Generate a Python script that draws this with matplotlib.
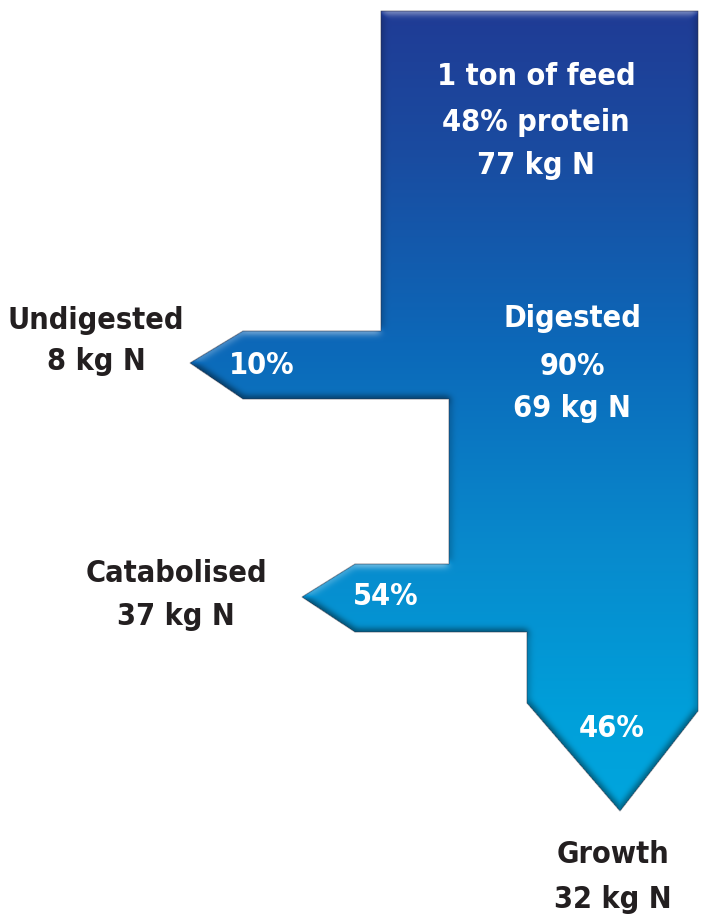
import numpy as np
import matplotlib
matplotlib.use("Agg")
import matplotlib.pyplot as plt
from matplotlib.path import Path
from matplotlib.patches import PathPatch
from matplotlib import font_manager as fm

W, H = 701, 915

# Nitrogen budget for one ton of feed
feed_label = "1 ton of feed"
protein_pct = 48
feed_kg = 77
digested_pct = 90
digested_kg = 69
branch_names = ["Undigested", "Catabolised", "Growth"]
branch_kg = [8, 37, 32]
branch_pct = [10, 54, 46]

# Outline of the flow shape, in pixel coordinates (y grows downward)
outline = [
    (381, 11), (698, 11), (698, 711), (620, 811), (527, 703), (527, 632),
    (355, 632), (302, 597), (355, 564), (449, 564), (449, 399), (243, 399),
    (190, 363), (243, 331), (381, 331),
]

# Vertical colour ramp: deep navy at the top, bright cyan at the tip
ramp_y = [0, 150, 350, 550, 720, 915]
ramp_rgb = np.array([
    (32, 58, 148), (26, 75, 160), (12, 105, 185), (8, 138, 205),
    (0, 160, 218), (0, 172, 226),
]) / 255.0

TEXT_DARK = "#231f20"

# Use a condensed bold face when one is available
cond = fm.FontProperties(family="DejaVu Sans", stretch="condensed", weight="bold")
cond_file = fm.findfont(cond)
if "Condensed" in cond_file:
    FONT_KW = dict(family="DejaVu Sans", fontstretch="condensed", fontweight="bold")
    FS = 22
else:
    FONT_KW = dict(family="DejaVu Sans", fontweight="bold")
    FS = 19


def blur(a, sigma):
    r = int(3 * sigma)
    k = np.exp(-0.5 * (np.arange(-r, r + 1) / sigma) ** 2)
    k /= k.sum()
    p = np.pad(a, ((r, r), (0, 0)))
    t = sum(k[i] * p[i:i + a.shape[0], :] for i in range(2 * r + 1))
    p = np.pad(t, ((0, 0), (r, r)))
    return sum(k[i] * p[:, i:i + a.shape[1]] for i in range(2 * r + 1))


path = Path(np.array(outline + [outline[0]], float), closed=True)

# Anti-aliased coverage from a 2x supersampled mask
ss = 2
xs = (np.arange(W * ss) + 0.5) / ss
ys = (np.arange(H * ss) + 0.5) / ss
gx, gy = np.meshgrid(xs, ys)
inside = path.contains_points(np.column_stack([gx.ravel(), gy.ravel()]))
inside = inside.reshape(H * ss, W * ss).astype(float)
cover = inside.reshape(H, ss, W, ss).mean(axis=(1, 3))

# Base gradient
rows = np.arange(H) + 0.5
col = np.stack([np.interp(rows, ramp_y, ramp_rgb[:, c]) for c in range(3)], axis=1)
rgb = np.repeat(col[:, None, :], W, axis=1)

# Bevel: light along upper edges, shadow along lower and side edges
b = blur(cover, 3.5)
dy = np.gradient(b, axis=0)
dx = np.gradient(b, axis=1)
shade = 3.2 * dy - 1.4 * np.abs(dx)
shade = np.clip(shade, -0.6, 0.35)
light = np.clip(shade, 0, None)[..., None]
dark = np.clip(shade, None, 0)[..., None]
rgb = rgb + (1 - rgb) * light
rgb = rgb * (1 + dark)
rgb = np.clip(rgb, 0, 1)

rgba = np.dstack([rgb, cover])

fig = plt.figure(figsize=(W / 100, H / 100), dpi=100)
ax = fig.add_axes([0, 0, 1, 1])
ax.set_xlim(0, W)
ax.set_ylim(H, 0)
ax.axis("off")

ax.imshow(rgba, extent=(0, W, H, 0), interpolation="none", zorder=1)
ax.add_patch(PathPatch(path, facecolor="none", edgecolor="#2a2a3a",
                       lw=0.8, alpha=0.45, zorder=2))


def label(x, y, s, color):
    ax.text(x, y, s, ha="center", va="baseline", color=color,
            fontsize=FS, zorder=3, **FONT_KW)


# Feed block
label(536, 85, feed_label, "white")
label(536, 131, f"{protein_pct}% protein", "white")
label(536, 174, f"{feed_kg} kg N", "white")

# Digested block
label(572, 327, "Digested", "white")
label(572, 375, f"{digested_pct}%", "white")
label(572, 417, f"{digested_kg} kg N", "white")

# Branch percentages inside the arrows
label(262, 374, f"{branch_pct[0]}%", "white")
label(386, 605, f"{branch_pct[1]}%", "white")
label(612, 737, f"{branch_pct[2]}%", "white")

# Branch names and amounts outside the arrows
label(96, 329, branch_names[0], TEXT_DARK)
label(96, 370, f"{branch_kg[0]} kg N", TEXT_DARK)
label(176, 582, branch_names[1], TEXT_DARK)
label(176, 625, f"{branch_kg[1]} kg N", TEXT_DARK)
label(613, 863, branch_names[2], TEXT_DARK)
label(613, 908, f"{branch_kg[2]} kg N", TEXT_DARK)

fig.savefig("out.png", dpi=100)
